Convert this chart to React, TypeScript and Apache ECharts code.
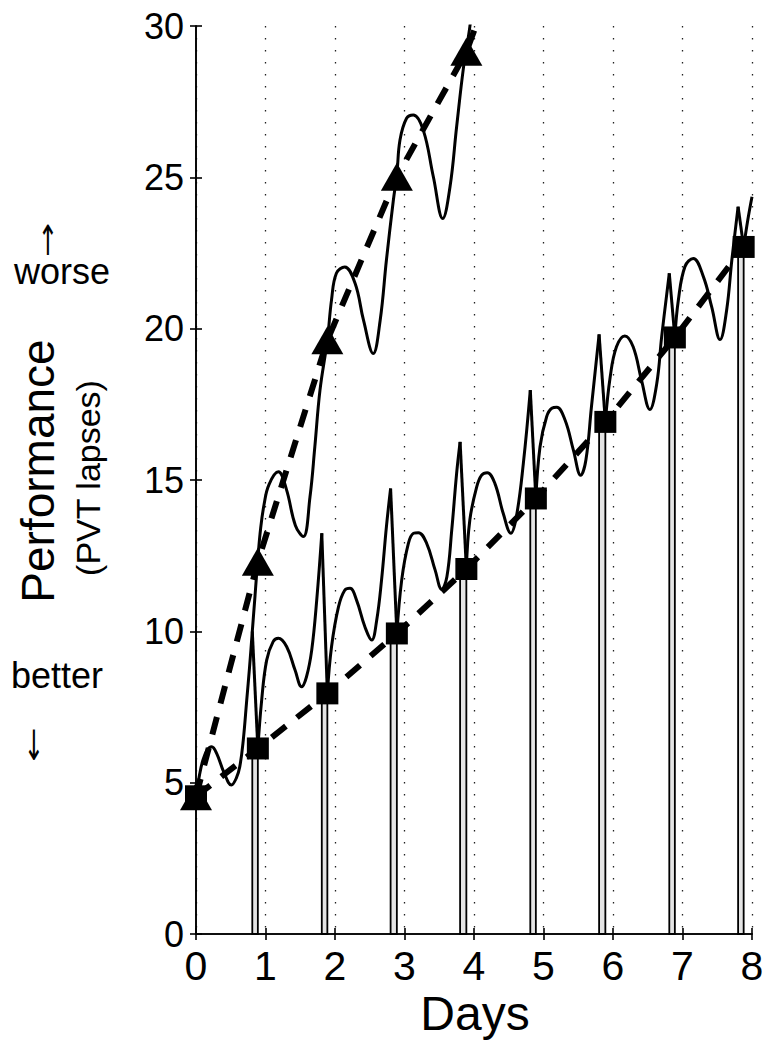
import React, { useEffect, useRef } from "react";
import * as echarts from "echarts";

// ---- data ----
const dayTicks = [0, 8, 1]; // min, max, interval
const perfTicks = [0, 30, 5];

// sleep restriction: sleep episodes and model values
const sleepStart = [0.81, 1.81, 2.8, 3.8, 4.81, 5.8, 6.81, 7.8];
const wakeTime = [0.89, 1.89, 2.89, 3.89, 4.89, 5.89, 6.89, 7.88];
const restrictedAtWake = [6.13, 7.95, 9.93, 12.06, 14.39, 16.92, 19.71, 22.7];
const restrictedAtSleep = [10.0, 13.24, 14.72, 16.26, 17.97, 19.81, 21.83, 24.03];
const baseline = [0, 4.55];

// total sleep deprivation: measured points (triangles) and trend extension
const deprivedDays = [0, 0.89, 1.89, 2.89, 3.89];
const deprivedValues = [4.55, 12.3, 19.62, 25.02, 29.15];
const deprivedTrendTail = [4.3, 31.7];

// model curve, total sleep deprivation
const deprivedCurve = [
  [0, 4.55], [0.05, 5.25], [0.1, 5.75], [0.16, 6.08], [0.226, 6.19], [0.3, 5.95],
  [0.4, 5.35], [0.51, 4.92], [0.58, 5.15], [0.63, 5.53], [0.68, 6.4], [0.73, 7.73],
  [0.77, 8.8], [0.81, 10.0], [0.85, 11.2], [0.89, 12.4], [0.93, 13.4], [0.98, 14.2],
  [1.05, 14.85], [1.185, 15.27], [1.3, 14.7], [1.43, 13.5], [1.544, 13.13], [1.64, 14.44],
  [1.71, 16.1], [1.784, 17.97], [1.89, 19.62], [1.95, 20.95], [2.02, 21.83], [2.14, 22.04],
  [2.29, 21.49], [2.41, 20.28], [2.55, 19.18], [2.65, 20.28], [2.74, 22.27], [2.84, 24.25],
  [2.89, 25.1], [2.935, 26.23], [3.03, 26.95], [3.127, 27.06], [3.27, 26.56], [3.415, 25.02],
  [3.55, 23.64], [3.655, 24.69], [3.75, 26.67], [3.85, 28.65], [3.94, 29.97], [4.0, 31.2],
];

// model curve, sleep restriction: wake segments (wake -> next sleep onset)
const restrictedWake1 = [
  [0.89, 6.13], [0.945, 7.73], [1.017, 9.05], [1.11, 9.66], [1.185, 9.77], [1.305, 9.49],
  [1.425, 8.72], [1.52, 8.17], [1.59, 8.5], [1.665, 9.38], [1.737, 11.03], [1.81, 13.24],
];
const restrictedWake2 = [
  [1.89, 7.95], [1.95, 9.49], [2.05, 10.81], [2.14, 11.36], [2.216, 11.42], [2.31, 11.03],
  [2.43, 10.15], [2.528, 9.71], [2.6, 10.37], [2.67, 11.7], [2.74, 13.46], [2.8, 14.72],
];
const restrictedWake3 = [
  [2.89, 9.93], [2.96, 11.7], [3.055, 12.9], [3.13, 13.24], [3.2, 13.26], [3.32, 12.9],
  [3.44, 12.03], [3.535, 11.39], [3.61, 11.8], [3.68, 13.35], [3.75, 15.22], [3.8, 16.26],
];
const restrictedWake4 = [
  [3.89, 12.06], [3.94, 13.68], [4.04, 14.78], [4.11, 15.16], [4.19, 15.24], [4.3, 14.89],
  [4.42, 13.9], [4.53, 13.24], [4.61, 13.79], [4.71, 15.55], [4.81, 17.97],
];
const restrictedWake5 = [
  [4.89, 14.39], [4.95, 16.1], [5.045, 17.09], [5.12, 17.37], [5.19, 17.4], [5.31, 16.98],
  [5.43, 15.99], [5.535, 15.16], [5.61, 15.66], [5.69, 17.42], [5.8, 19.81],
];
const restrictedWake6 = [
  [5.89, 16.92], [5.96, 18.41], [6.05, 19.4], [6.17, 19.76], [6.29, 19.4], [6.41, 18.3],
  [6.53, 17.33], [6.63, 18.19], [6.7, 19.73], [6.81, 21.83],
];
const restrictedWake7 = [
  [6.89, 19.71], [6.94, 20.94], [7.035, 22.05], [7.155, 22.32], [7.3, 21.72], [7.42, 20.72],
  [7.54, 19.64], [7.635, 20.61], [7.71, 22.27], [7.8, 24.03],
];
const restrictedWake8 = [[7.88, 22.7], [7.94, 23.6], [8.0, 24.36]];

const restrictedWakeSegments = [
  restrictedWake1, restrictedWake2, restrictedWake3, restrictedWake4,
  restrictedWake5, restrictedWake6, restrictedWake7, restrictedWake8,
];

const FONT = "'Liberation Sans', Arial, Helvetica, sans-serif";
const ARROW_FONT = "'DejaVu Sans', sans-serif";

export default function App() {
  const ref = useRef<HTMLDivElement>(null);

  useEffect(() => {
    if (!ref.current) return;
    const chart = echarts.init(ref.current, undefined, { renderer: "svg" });

    const axisLine = { show: true, lineStyle: { color: "#000", width: 1.6 } };
    const axisTick = { show: true, length: 6, inside: false, lineStyle: { color: "#000", width: 1.6 } };

    const curveStyle = { color: "#000", width: 3 };

    const restrictedTrend = [baseline, ...wakeTime.map((d, i) => [d, restrictedAtWake[i]])];
    const deprivedTrend = [
      ...deprivedDays.map((d, i) => [d, deprivedValues[i]]),
      deprivedTrendTail,
    ];

    const series: any[] = [];

    // sleep episode boxes
    series.push({
      type: "line",
      data: [baseline],
      symbol: "none",
      lineStyle: { opacity: 0 },
      silent: true,
      z: 1,
      markArea: {
        silent: true,
        itemStyle: { color: "#e4e4e4", borderColor: "#000", borderWidth: 1.8, opacity: 1 },
        data: sleepStart.map((s, i) => [
          { xAxis: s, yAxis: 0 },
          { xAxis: wakeTime[i], yAxis: restrictedAtWake[i] },
        ]),
      },
    });

    // total sleep deprivation model curve
    series.push({
      type: "line",
      data: deprivedCurve,
      symbol: "none",
      smooth: 0.4,
      lineStyle: curveStyle,
      silent: true,
      z: 3,
    });

    // sleep restriction wake segments
    restrictedWakeSegments.forEach((seg) => {
      series.push({
        type: "line",
        data: seg,
        symbol: "none",
        smooth: 0.4,
        lineStyle: curveStyle,
        silent: true,
        z: 3,
      });
    });

    // sleep restriction: recovery during sleep
    sleepStart.forEach((s, i) => {
      series.push({
        type: "line",
        data: [
          [s, restrictedAtSleep[i]],
          [wakeTime[i], restrictedAtWake[i]],
        ],
        symbol: "none",
        lineStyle: curveStyle,
        silent: true,
        z: 3,
      });
    });

    // dashed trends
    const dashStyle = { color: "#000", width: 6, type: [18, 14] };
    series.push({
      type: "line",
      data: deprivedTrend,
      symbol: "none",
      lineStyle: dashStyle,
      silent: true,
      z: 4,
    });
    series.push({
      type: "line",
      data: restrictedTrend,
      symbol: "none",
      lineStyle: dashStyle,
      silent: true,
      z: 4,
    });

    // markers
    series.push({
      type: "scatter",
      data: restrictedTrend,
      symbol: "rect",
      symbolSize: 22,
      itemStyle: { color: "#000", opacity: 1 },
      silent: true,
      z: 6,
    });
    series.push({
      type: "scatter",
      data: deprivedDays.map((d, i) => [d, deprivedValues[i]]),
      symbol: "triangle",
      symbolSize: [32, 28],
      itemStyle: { color: "#000", opacity: 1 },
      silent: true,
      z: 7,
    });

    const txt = (
      text: string,
      x: number,
      y: number,
      fontSize: number,
      rotation = 0,
      fontFamily = FONT,
      scaleX = 1,
      scaleY = 1
    ) => ({
      type: "text",
      x,
      y,
      rotation,
      scaleX,
      scaleY,
      silent: true,
      style: {
        text,
        fontSize,
        fontFamily,
        fill: "#000",
        align: "center",
        verticalAlign: "middle",
        textAlign: "center",
        textVerticalAlign: "middle",
      },
    });

    chart.setOption({
      animation: false,
      backgroundColor: "#fff",
      grid: { left: 196, right: 22, top: 26, bottom: 122, containLabel: false },
      xAxis: [
        {
          type: "value",
          position: "bottom",
          min: dayTicks[0],
          max: dayTicks[1],
          interval: dayTicks[2],
          axisLine,
          axisTick,
          axisLabel: { fontSize: 41, color: "#000", margin: 11, fontFamily: FONT },
          splitLine: { show: true, lineStyle: { type: [1.5, 10.5], color: "#222", width: 1.3 } },
        },
        {
          type: "value",
          position: "top",
          min: dayTicks[0],
          max: dayTicks[1],
          interval: dayTicks[2],
          axisLine,
          axisTick,
          axisLabel: { show: false },
          splitLine: { show: false },
        },
      ],
      yAxis: [
        {
          type: "value",
          position: "left",
          min: perfTicks[0],
          max: perfTicks[1],
          interval: perfTicks[2],
          axisLine,
          axisTick,
          axisLabel: { fontSize: 36, color: "#000", margin: 12, fontFamily: FONT },
          splitLine: { show: false },
        },
        {
          type: "value",
          position: "right",
          min: perfTicks[0],
          max: perfTicks[1],
          interval: perfTicks[2],
          axisLine,
          axisTick,
          axisLabel: { show: false },
          splitLine: { show: false },
        },
      ],
      graphic: [
        txt("Days", 475, 1013, 48),
        txt("Performance", 38, 471, 46, Math.PI / 2),
        txt("(PVT lapses)", 88, 478, 34, Math.PI / 2),
        txt("↑", 48, 240, 22, 0, ARROW_FONT, 1.1, 1.9),
        txt("worse", 62, 271, 36),
        txt("better", 57, 675, 36),
        txt("↓", 34, 745, 22, 0, ARROW_FONT, 1.1, 1.9),
      ],
      series,
    });

    return () => {
      chart.dispose();
    };
  }, []);

  return (
    <div
      ref={ref}
      style={{ position: "fixed", left: 0, top: 0, width: 774, height: 1056, background: "#fff" }}
    />
  );
}
